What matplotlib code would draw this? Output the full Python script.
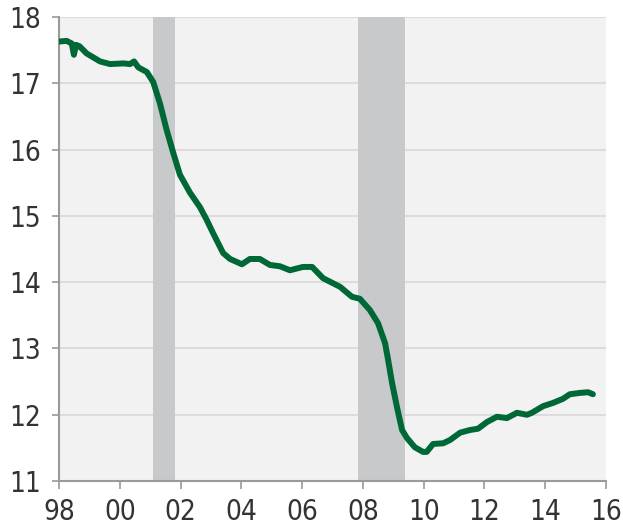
import matplotlib
matplotlib.use('Agg')
import matplotlib.pyplot as plt

# Series (year, value)
years = [1998.0, 1998.25, 1998.42, 1998.49, 1998.56, 1998.67, 1998.91, 1999.35, 1999.68,
         2000.12, 2000.34, 2000.47, 2000.61, 2000.89, 2001.1, 2001.32, 2001.54, 2001.76,
         2001.98, 2002.31, 2002.64, 2002.86, 2003.07, 2003.4, 2003.63, 2004.02, 2004.28,
         2004.61, 2004.94, 2005.27, 2005.6, 2006.03, 2006.33, 2006.69, 2007.25, 2007.64,
         2007.9, 2008.23, 2008.5, 2008.73, 2008.83, 2008.96, 2009.12, 2009.29, 2009.45,
         2009.71, 2009.98, 2010.1, 2010.31, 2010.64, 2010.87, 2011.2, 2011.52, 2011.79,
         2012.08, 2012.41, 2012.74, 2013.07, 2013.4, 2013.56, 2013.93, 2014.26, 2014.58,
         2014.81, 2015.14, 2015.41, 2015.57]
values = [17.63, 17.64, 17.60, 17.43, 17.58, 17.56, 17.45, 17.33, 17.29,
          17.30, 17.29, 17.33, 17.24, 17.17, 17.02, 16.70, 16.30, 15.95,
          15.62, 15.35, 15.13, 14.94, 14.74, 14.44, 14.35, 14.27, 14.35,
          14.35, 14.26, 14.24, 14.18, 14.23, 14.23, 14.06, 13.93, 13.78,
          13.75, 13.58, 13.38, 13.08, 12.83, 12.48, 12.12, 11.77, 11.65,
          11.51, 11.44, 11.44, 11.56, 11.57, 11.62, 11.73, 11.77, 11.79,
          11.89, 11.97, 11.95, 12.03, 12.00, 12.03, 12.13, 12.18, 12.24,
          12.31, 12.33, 12.34, 12.31]

recessions = [(2001.1, 2001.83), (2007.85, 2009.4)]
xticks = list(range(1998, 2017, 2))
xlabels = ['98', '00', '02', '04', '06', '08', '10', '12', '14', '16']
yticks = [11, 12, 13, 14, 15, 16, 17, 18]

plt.rcParams['font.family'] = ['DejaVu Sans']
plt.rcParams['font.stretch'] = 'condensed'

fig = plt.figure(figsize=(6.23, 5.31), dpi=100)
ax = fig.add_axes([0.0947, 0.094, 0.878, 0.874])
ax.set_facecolor('#f2f2f2')

for start, end in recessions:
	ax.axvspan(start, end, color='#c8c9cb', lw=0, zorder=1)

for y in yticks[1:]:
	ax.axhline(y, color='#dcdcdc', lw=1.5, zorder=0.5)

ax.plot(years, values, color='#006837', lw=4.3, solid_capstyle='round', solid_joinstyle='round', zorder=3)

ax.set_xlim(1998, 2016)
ax.set_ylim(11, 18)
ax.set_xticks(xticks)
ax.set_xticklabels(xlabels)
ax.set_yticks(yticks)
ax.tick_params(axis='both', direction='out', width=1.2, color='#9a9a9a',
	labelsize=20, labelcolor='#333333')
ax.tick_params(axis='x', length=6, pad=6)
ax.tick_params(axis='y', length=5, pad=8)
for lab in ax.get_xticklabels() + ax.get_yticklabels():
	lab.set_fontstretch('condensed')

for side in ['top', 'right']:
	ax.spines[side].set_visible(False)
for side in ['left', 'bottom']:
	ax.spines[side].set_color('#9a9a9a')
	ax.spines[side].set_linewidth(1.5)

fig.savefig('out.png', dpi=100)
